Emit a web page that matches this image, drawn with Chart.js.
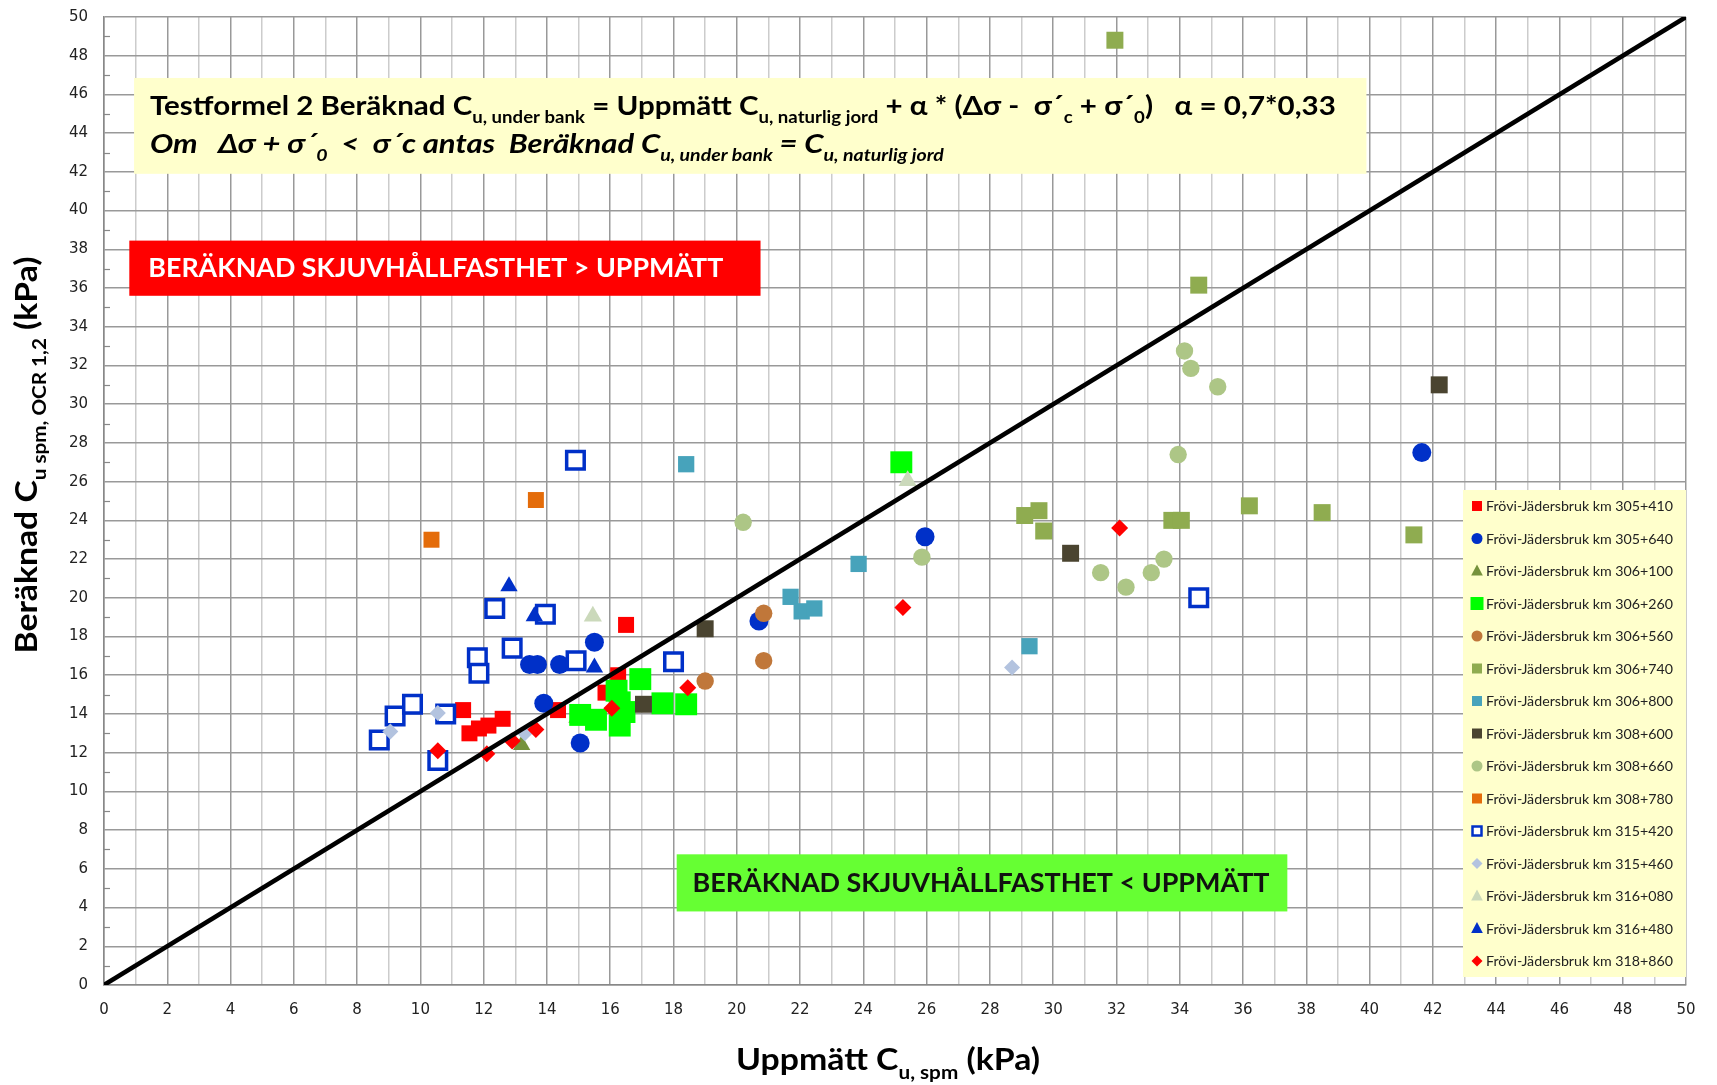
<!DOCTYPE html>
<html>
<head>
<meta charset="utf-8">
<script src="https://cdn.jsdelivr.net/npm/chart.js@4.4.0/dist/chart.umd.min.js"></script>
<style>
    html, body { margin: 0; padding: 0; background: #fff; }
    #wrap { width: 1717px; height: 1085px; }
</style>
</head>
<body>
<div id="wrap"><canvas id="myChart" width="1717" height="1085"></canvas></div>
<script>
// series (km sections)
let seriesNames = [
    "Frövi-Jädersbruk km 305+410",
    "Frövi-Jädersbruk km 305+640",
    "Frövi-Jädersbruk km 306+100",
    "Frövi-Jädersbruk km 306+260",
    "Frövi-Jädersbruk km 306+560",
    "Frövi-Jädersbruk km 306+740",
    "Frövi-Jädersbruk km 306+800",
    "Frövi-Jädersbruk km 308+600",
    "Frövi-Jädersbruk km 308+660",
    "Frövi-Jädersbruk km 308+780",
    "Frövi-Jädersbruk km 315+420",
    "Frövi-Jädersbruk km 315+460",
    "Frövi-Jädersbruk km 316+080",
    "Frövi-Jädersbruk km 316+480",
    "Frövi-Jädersbruk km 318+860",
];

// uppmätt (x) / beräknad (y), kPa
let x305_410 = [11.35, 11.55, 11.85, 12.15, 12.6, 14.35, 15.85, 16.25, 16.5];
let y305_410 = [14.2, 13.0, 13.25, 13.4, 13.75, 14.2, 15.1, 16.0, 18.6];

let x305_640 = [13.45, 13.7, 14.4, 15.5, 13.9, 15.05, 20.7, 25.95, 41.65];
let y305_640 = [16.55, 16.55, 16.55, 17.7, 14.55, 12.5, 18.8, 23.15, 27.5];

let x306_100 = [13.2, 14.95];
let y306_100 = [12.4, 13.8];

let x306_260 = [15.05, 15.55, 16.2, 16.3, 16.45, 16.3, 16.95, 17.65, 18.4, 25.2];
let y306_260 = [13.95, 13.7, 15.2, 14.6, 14.1, 13.4, 15.8, 14.55, 14.5, 27.0];

let x306_560 = [19.0, 20.85, 20.85];
let y306_560 = [15.7, 19.2, 16.75];

let x306_740 = [31.95, 34.6, 29.1, 29.55, 29.7, 33.75, 34.05, 36.2, 38.5, 41.4];
let y306_740 = [48.8, 36.15, 24.25, 24.5, 23.45, 24.0, 24.0, 24.75, 24.4, 23.25];

let x306_800 = [18.4, 21.7, 22.05, 22.45, 23.85, 29.25];
let y306_800 = [26.9, 20.05, 19.3, 19.45, 21.75, 17.5];

let x308_600 = [19.0, 17.05, 30.55, 42.2];
let y308_600 = [18.4, 14.5, 22.3, 31.0];

let x308_660 = [20.2, 25.85, 31.5, 32.3, 33.1, 33.5, 33.95, 34.15, 34.35, 35.2];
let y308_660 = [23.9, 22.1, 21.3, 20.55, 21.3, 22.0, 27.4, 32.75, 31.85, 30.9];

let x308_780 = [10.35, 13.65];
let y308_780 = [23.0, 25.05];

let x315_420 = [8.7, 9.2, 9.75, 10.8, 10.55, 11.8, 11.85, 12.35, 12.9, 13.95, 14.9, 14.92, 18.0, 34.6];
let y315_420 = [12.65, 13.9, 14.5, 14.0, 11.6, 16.9, 16.1, 19.45, 17.4, 19.15, 27.1, 16.75, 16.7, 20.0];

let x315_460 = [9.05, 10.55, 13.3, 28.7];
let y315_460 = [13.1, 14.05, 13.0, 16.4];

let x316_080 = [15.45, 25.4];
let y316_080 = [19.05, 26.05];

let x316_480 = [12.8, 13.6, 15.5];
let y316_480 = [20.6, 19.05, 16.4];

let x318_860 = [10.55, 12.1, 12.9, 13.65, 16.05, 18.45, 25.25, 32.1];
let y318_860 = [12.1, 11.95, 12.6, 13.2, 14.3, 15.35, 19.5, 23.6];

// 1:1 line
let lineX = [0, 50];
let lineY = [0, 50];

let xTicks = [0, 2, 4, 6, 8, 10, 12, 14, 16, 18, 20, 22, 24, 26, 28, 30, 32, 34, 36, 38, 40, 42, 44, 46, 48, 50];
let yTicks = [0, 2, 4, 6, 8, 10, 12, 14, 16, 18, 20, 22, 24, 26, 28, 30, 32, 34, 36, 38, 40, 42, 44, 46, 48, 50];

let seriesX = [x305_410, x305_640, x306_100, x306_260, x306_560, x306_740, x306_800, x308_600, x308_660, x308_780, x315_420, x315_460, x316_080, x316_480, x318_860];
let seriesY = [y305_410, y305_640, y306_100, y306_260, y306_560, y306_740, y306_800, y308_600, y308_660, y308_780, y315_420, y315_460, y316_080, y316_480, y318_860];

// marker looks (r = chart radius, lr = legend half size)
let blue = '#0030c8';
let styles = [
    {shape: 'rect', fill: '#ff0000', r: 11.3, lr: 5},
    {shape: 'circle', fill: blue, r: 9.5, lr: 5.5},
    {shape: 'triangle', fill: '#76923c', r: 10, lr: 6.5},
    {shape: 'rect', fill: '#00ff00', r: 15.5, lr: 6.5},
    {shape: 'circle', fill: '#c0773a', r: 8.7, lr: 5.5},
    {shape: 'rect', fill: '#8fac50', r: 12, lr: 5},
    {shape: 'rect', fill: '#47a3bb', r: 11.5, lr: 5},
    {shape: 'rect', fill: '#4a4430', r: 12, lr: 5},
    {shape: 'circle', fill: '#adc686', r: 8.7, lr: 5.5},
    {shape: 'rect', fill: '#e46c0a', r: 11.3, lr: 5},
    {shape: 'rect', fill: '#ffffff', stroke: blue, bw: 3.5, r: 12.4, lr: 4.5},
    {shape: 'rectRot', fill: '#b3c3df', r: 8, lr: 5.5},
    {shape: 'triangle', fill: '#cbd9bb', r: 10.5, lr: 6.5},
    {shape: 'triangle', fill: blue, r: 10, lr: 6.5},
    {shape: 'rectRot', fill: '#ff0000', r: 8.5, lr: 5.5},
];

let datasets = seriesNames.map((name, i) => ({
    label: name,
    data: seriesX[i].map((x, j) => ({x: x, y: seriesY[i][j]})),
    pointStyle: styles[i].shape,
    pointRadius: styles[i].r,
    pointBackgroundColor: styles[i].fill,
    pointBorderColor: styles[i].stroke || styles[i].fill,
    pointBorderWidth: styles[i].bw || 0,
    order: 20 - i,
}));

datasets.push({
    label: '1:1',
    data: lineX.map((x, j) => ({x: x, y: lineY[j]})),
    showLine: true,
    borderColor: '#000000',
    borderWidth: 4.5,
    pointRadius: 0,
    order: 0,
});

let boldFont = 'Lato, "Open Sans", sans-serif';

function drawRich(ctx, segs, x, y, opt) {
    let st = opt.style || 'normal';
    let main = st + ' ' + opt.weight + ' ' + opt.size + 'px ' + opt.family;
    let sub = st + ' ' + opt.weight + ' ' + Math.round(opt.size * 0.62) + 'px ' + opt.family;
    let w = 0;
    let widths = segs.map(s => {
        ctx.font = s[1] ? sub : main;
        let m = ctx.measureText(s[0]).width;
        w += m;
        return m;
    });
    let sx = opt.width ? opt.width / w : 1;
    let start = opt.align === 'center' ? -w * sx / 2 : 0;
    ctx.save();
    ctx.translate(x + start, y);
    ctx.scale(sx, 1);
    ctx.fillStyle = opt.color;
    ctx.textAlign = 'left';
    ctx.textBaseline = 'alphabetic';
    let cx = 0;
    segs.forEach((s, k) => {
        ctx.font = s[1] ? sub : main;
        ctx.fillText(s[0], cx, s[1] ? opt.size * 0.3 : 0);
        cx += widths[k];
    });
    ctx.restore();
}

function drawMarker(ctx, st, x, y, s) {
    ctx.beginPath();
    if (st.shape === 'circle') {
        ctx.arc(x, y, s, 0, Math.PI * 2);
    } else if (st.shape === 'rect') {
        ctx.rect(x - s, y - s, 2 * s, 2 * s);
    } else if (st.shape === 'triangle') {
        ctx.moveTo(x, y - s);
        ctx.lineTo(x + s * 0.9, y + s * 0.7);
        ctx.lineTo(x - s * 0.9, y + s * 0.7);
        ctx.closePath();
    } else {
        ctx.moveTo(x, y - s);
        ctx.lineTo(x + s, y);
        ctx.lineTo(x, y + s);
        ctx.lineTo(x - s, y);
        ctx.closePath();
    }
    ctx.fillStyle = st.fill;
    ctx.fill();
    if (st.bw) {
        ctx.lineWidth = 2.5;
        ctx.strokeStyle = st.stroke;
        ctx.stroke();
    }
}

// boxes, texts and legend drawn on the canvas
let notes = {
    id: 'notes',
    beforeDatasetsDraw(chart) {
        let ctx = chart.ctx;
        let xs = chart.scales.x, ys = chart.scales.y;
        let area = chart.chartArea;
        let box = (x0, x1, y0, y1, color) => {
            let l = xs.getPixelForValue(x0), r = xs.getPixelForValue(x1);
            let t = ys.getPixelForValue(y0), b = ys.getPixelForValue(y1);
            ctx.fillStyle = color;
            ctx.fillRect(l, t, r - l, b - t);
        };
        ctx.save();

        // small minor ticks at odd y values
        ctx.strokeStyle = '#888888';
        ctx.lineWidth = 1.2;
        for (let v = 1; v < 50; v += 2) {
            let py = Math.round(ys.getPixelForValue(v)) + 0.5;
            ctx.beginPath();
            ctx.moveTo(area.left, py);
            ctx.lineTo(area.left + 6, py);
            ctx.stroke();
        }

        box(0.95, 39.9, 46.85, 41.9, '#ffffcc');
        box(0.8, 20.75, 38.45, 35.6, '#ff0000');
        box(18.1, 37.4, 6.75, 3.8, '#66ff33');

        drawRich(ctx, [
            ['Testformel 2 Beräknad C'], ['u, under bank', 1], [' = Uppmätt C'], ['u, naturlig jord', 1],
            [' + α * (Δσ -  σ´'], ['c', 1], [' + σ´'], ['0', 1], [')   α = 0,7*0,33']
        ], xs.getPixelForValue(1.45), ys.getPixelForValue(44.93),
            {size: 27, weight: 'bold', family: boldFont, color: '#000', width: 1186});
        drawRich(ctx, [
            ['Om   Δσ + σ´'], ['0', 1], ['  <  σ´c antas  Beräknad C'], ['u, under bank', 1], [' = C'], ['u, naturlig jord', 1]
        ], xs.getPixelForValue(1.45), ys.getPixelForValue(43.0),
            {size: 27, weight: 'bold', style: 'italic', family: boldFont, color: '#000', width: 794});

        drawRich(ctx, [['BERÄKNAD SKJUVHÅLLFASTHET > UPPMÄTT']],
            xs.getPixelForValue(1.4), ys.getPixelForValue(36.56),
            {size: 27, weight: 'bold', family: boldFont, color: '#ffffff', width: 575});
        drawRich(ctx, [['BERÄKNAD SKJUVHÅLLFASTHET < UPPMÄTT']],
            xs.getPixelForValue(18.6), ys.getPixelForValue(4.8),
            {size: 27, weight: 'bold', family: boldFont, color: '#111111', width: 577});

        // legend
        let left = area.right - 223, top = area.bottom - 495;
        ctx.fillStyle = '#ffffcc';
        ctx.fillRect(left, top, 223, 487);
        seriesNames.forEach((name, i) => {
            let cy = top + 16 + i * 32.5;
            drawMarker(ctx, styles[i], left + 14, cy, styles[i].lr);
            drawRich(ctx, [[name]], left + 23, cy + 5,
                {size: 14, weight: 'normal', family: boldFont, color: '#222222', width: 187});
        });
        ctx.restore();
    },
    afterDraw(chart) {
        let ctx = chart.ctx;
        drawRich(ctx, [['Uppmätt C'], ['u, spm', 1], [' (kPa)']],
            888, 1070,
            {size: 31, weight: 'bold', family: boldFont, color: '#000', width: 304, align: 'center'});
        ctx.save();
        ctx.translate(37, 455);
        ctx.rotate(-Math.PI / 2);
        drawRich(ctx, [['Beräknad C'], ['u spm, OCR 1,2', 1], [' (kPa)']], 0, 0,
            {size: 31, weight: 'bold', family: boldFont, color: '#000', width: 397, align: 'center'});
        ctx.restore();
    }
};

let tickFont = {family: '"DejaVu Sans", Verdana, sans-serif', size: 15};

let ctx = document.getElementById('myChart').getContext('2d');
let myChart = new Chart(ctx, {
    type: 'scatter',
    data: {datasets: datasets},
    options: {
        responsive: false,
        animation: false,
        events: [],
        layout: {autoPadding: false, padding: {top: 17, right: 31, left: 0, bottom: 0}},
        plugins: {
            legend: {display: false},
            tooltip: {enabled: false},
        },
        scales: {
            x: {
                type: 'linear',
                min: 0,
                max: 50,
                afterFit: (s) => {
                    s.height = 100;
                    s.paddingLeft = 0;
                    s.paddingRight = 0;
                },
                ticks: {
                    stepSize: 1,
                    autoSkip: false,
                    maxRotation: 0,
                    padding: 16,
                    font: tickFont,
                    color: '#222222',
                    callback: (v) => xTicks.includes(v) ? String(v) : '',
                },
                grid: {
                    drawTicks: false,
                    lineWidth: 1.5,
                    color: (c) => (c.tick && c.tick.value % 2 === 0) ? '#999999' : '#cccccc',
                },
                border: {color: '#888888', width: 1.5},
            },
            y: {
                type: 'linear',
                min: 0,
                max: 50,
                afterFit: (s) => {
                    s.width = 104;
                    s.paddingTop = 0;
                    s.paddingBottom = 0;
                },
                ticks: {
                    stepSize: 2,
                    autoSkip: false,
                    padding: 16,
                    font: tickFont,
                    color: '#222222',
                    callback: (v) => yTicks.includes(v) ? String(v) : '',
                },
                grid: {drawTicks: false, lineWidth: 1.5, color: '#999999'},
                border: {color: '#888888', width: 1.5},
            }
        }
    },
    plugins: [notes]
});
</script>
</body>
</html>
